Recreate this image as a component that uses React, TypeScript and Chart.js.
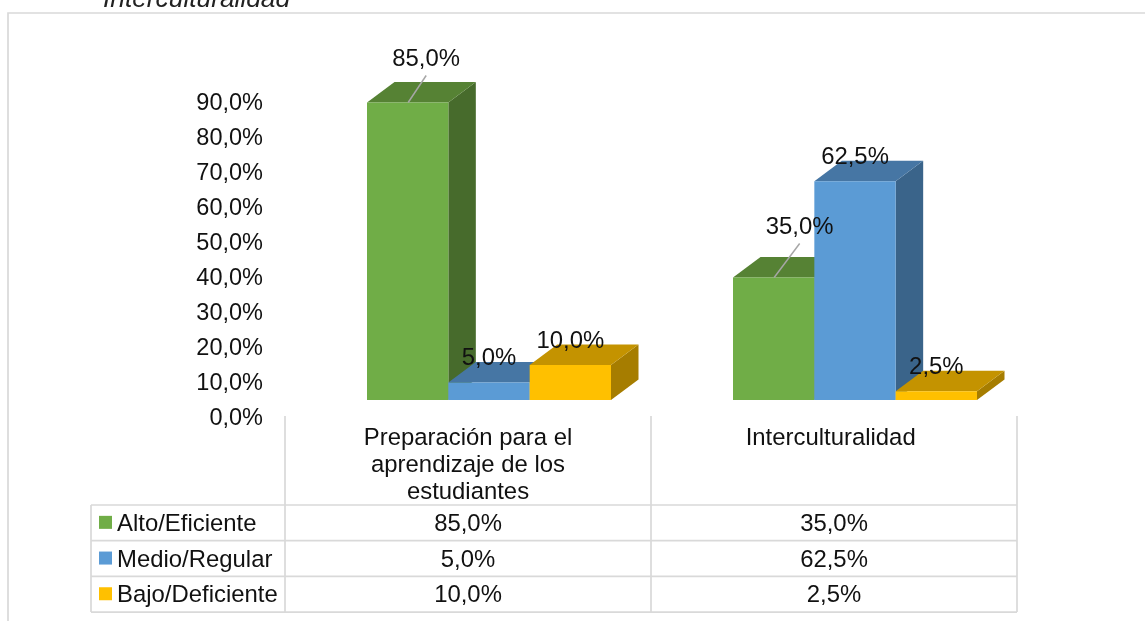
import React, { useEffect, useRef } from "react";
import { Chart, registerables } from "chart.js";

Chart.register(...registerables);

const categories = ["Preparación para el aprendizaje de los estudiantes", "Interculturalidad"];
const categoryLines = [["Preparación para el", "aprendizaje de los", "estudiantes"], ["Interculturalidad "]];
const seriesNames = ["Alto/Eficiente", "Medio/Regular", "Bajo/Deficiente"];
const alto = [85, 35];
const medio = [5, 62.5];
const bajo = [10, 2.5];
const seriesValues = [alto, medio, bajo];
const heading = "Interculturalidad";
const frontColors = ["#70AD47", "#5B9BD5", "#FFC000"];
const topColors = ["#568234", "#4676A4", "#C49300"];
const sideColors = ["#476B2C", "#3A648A", "#A67D00"];

const FONT = '"Liberation Sans", Arial, sans-serif';
const TEXT = "#111111";
const RULE = "#D9D9D9";
const fmt = (v: number) => v.toFixed(1).replace(".", ",") + "%";

// 3D projection: the bars sit on a plane shifted from the axis plane
const SHIFT_X = 21;
const SHIFT_Y = -19;
const DEPTH_X = 27.5;
const DEPTH_Y = 20.5;

const bars3d = {
  id: "bars3d",
  beforeDatasetsDraw(chart: any) {
    const { ctx } = chart;
    // paint left to right so each bar covers the depth faces of its left neighbour
    seriesValues.forEach((_, i) => {
      const meta = chart.getDatasetMeta(i);
      ctx.save();
      ctx.translate(SHIFT_X, SHIFT_Y);
      meta.data.forEach((el: any) => {
        const left = el.x - el.width / 2;
        const right = el.x + el.width / 2;
        ctx.fillStyle = sideColors[i];
        ctx.beginPath();
        ctx.moveTo(right, el.y);
        ctx.lineTo(right + DEPTH_X, el.y - DEPTH_Y);
        ctx.lineTo(right + DEPTH_X, el.base - DEPTH_Y);
        ctx.lineTo(right, el.base);
        ctx.closePath();
        ctx.fill();
        ctx.fillStyle = topColors[i];
        ctx.beginPath();
        ctx.moveTo(left, el.y);
        ctx.lineTo(left + DEPTH_X, el.y - DEPTH_Y);
        ctx.lineTo(right + DEPTH_X, el.y - DEPTH_Y);
        ctx.lineTo(right, el.y);
        ctx.closePath();
        ctx.fill();
      });
      meta.controller.draw();
      ctx.restore();
    });

    ctx.save();
    ctx.font = `23.9px ${FONT}`;
    ctx.textAlign = "center";
    ctx.textBaseline = "middle";
    seriesValues.forEach((vals, s) => {
      const meta = chart.getDatasetMeta(s);
      vals.forEach((v, c) => {
        const el = meta.data[c];
        const bx = el.x + SHIFT_X;
        const by = el.y + SHIFT_Y;
        // the two green labels were dragged aside in the source, with a leader line
        const moved = s === 0;
        const dx = moved ? (c === 0 ? 18.5 : 26) : 0;
        const dy = moved ? (c === 0 ? -43 : -50) : -24;
        if (moved) {
          ctx.strokeStyle = "#A6A6A6";
          ctx.lineWidth = 1.5;
          ctx.beginPath();
          ctx.moveTo(bx + 0.5, by);
          ctx.lineTo(bx + dx, by + dy + 16);
          ctx.stroke();
        }
        ctx.fillStyle = TEXT;
        ctx.fillText(fmt(v), bx + dx, by + dy);
      });
    });
    ctx.restore();
    return false;
  },
  afterDraw(chart: any) {
    const { ctx, chartArea } = chart;
    const { left, right } = chartArea;
    const xs = chart.scales.x;
    const tableTop = 416;
    const rowTop = 505;
    const rowH = 35.7;
    const labelLeft = 91;
    const bottom = rowTop + rowH * seriesNames.length;
    ctx.save();

    // frame and clipped heading
    ctx.strokeStyle = RULE;
    ctx.lineWidth = 1.7;
    ctx.beginPath();
    ctx.moveTo(8, chart.height);
    ctx.lineTo(8, 13);
    ctx.lineTo(chart.width, 13);
    ctx.stroke();
    ctx.fillStyle = "#222222";
    ctx.font = `italic 26.3px ${FONT}`;
    ctx.textAlign = "left";
    ctx.textBaseline = "alphabetic";
    ctx.fillText(heading, 103, 7);

    // data table rules
    ctx.lineWidth = 1.7;
    ctx.beginPath();
    [left, xs.getPixelForTick(0) + (xs.getPixelForTick(1) - xs.getPixelForTick(0)) / 2, right].forEach((x: number) => {
      ctx.moveTo(x, tableTop);
      ctx.lineTo(x, bottom);
    });
    ctx.moveTo(labelLeft, rowTop);
    ctx.lineTo(labelLeft, bottom);
    for (let r = 0; r <= seriesNames.length; r++) {
      ctx.moveTo(labelLeft, rowTop + r * rowH);
      ctx.lineTo(right, rowTop + r * rowH);
    }
    ctx.stroke();

    // category headers
    ctx.fillStyle = TEXT;
    ctx.font = `23.9px ${FONT}`;
    ctx.textBaseline = "middle";
    ctx.textAlign = "center";
    categoryLines.forEach((lines, c) => {
      lines.forEach((line, l) => {
        ctx.fillText(line, xs.getPixelForTick(c), 438.5 + l * 27);
      });
    });

    // rows
    seriesNames.forEach((name, s) => {
      const cy = rowTop + rowH * (s + 0.5);
      ctx.fillStyle = frontColors[s];
      ctx.fillRect(99, cy - 7, 13, 13);
      ctx.fillStyle = TEXT;
      ctx.textAlign = "left";
      ctx.fillText(name, 117, cy + 1.5);
      ctx.textAlign = "center";
      seriesValues[s].forEach((v, c) => {
        ctx.fillText(fmt(v), xs.getPixelForTick(c), cy + 1.5);
      });
    });
    ctx.restore();
  },
};

export default function App() {
  const ref = useRef<HTMLCanvasElement>(null);
  useEffect(() => {
    const chart = new Chart(ref.current as HTMLCanvasElement, {
      type: "bar",
      data: {
        labels: categories,
        datasets: seriesNames.map((name, i) => ({
          label: name,
          data: seriesValues[i],
          backgroundColor: frontColors[i],
          borderWidth: 0,
          clip: false as any,
          categoryPercentage: 2 / 3,
          barPercentage: 1,
        })),
      },
      options: {
        animation: false,
        responsive: false,
        events: [],
        layout: { padding: { left: 0, top: 104, right: 128, bottom: 202 } },
        plugins: { legend: { display: false }, tooltip: { enabled: false } },
        scales: {
          x: { display: false, grid: { display: false } },
          y: {
            min: 0,
            max: 90,
            afterFit(scale: any) {
              scale.width = 285;
            },
            border: { display: false },
            grid: { display: false, drawTicks: false },
            ticks: {
              stepSize: 10,
              padding: 22,
              color: TEXT,
              font: { family: FONT, size: 23.5 },
              callback: (v: any) => fmt(Number(v)),
            },
          },
        },
      },
      plugins: [bars3d],
    });
    return () => chart.destroy();
  }, []);
  return (
    <div style={{ position: "fixed", left: 0, top: 0, width: 1145, height: 621, background: "#fff" }}>
      <canvas ref={ref} width={1145} height={621} style={{ display: "block" }} />
    </div>
  );
}
